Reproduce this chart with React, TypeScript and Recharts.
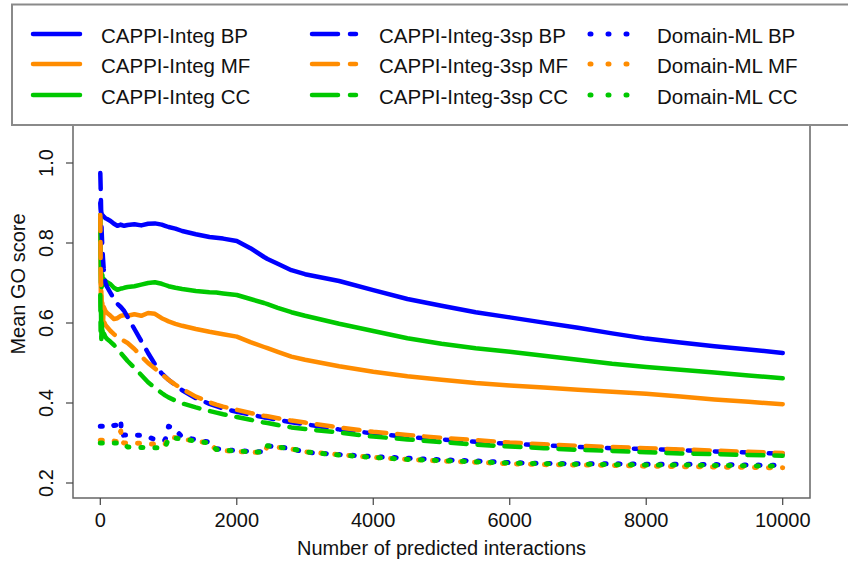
import React from 'react';
import { LineChart, Line, XAxis, YAxis, ReferenceArea, Legend } from 'recharts';

// x positions (number of predicted interactions)
const X = [0, 5, 10, 15, 20, 30, 40, 50, 75, 100, 150, 200, 250, 300, 310, 350, 400, 500, 600, 700, 800, 900, 950, 1000, 1100, 1200, 1400, 1600, 1700, 1800, 2000, 2200, 2400, 2450, 2600, 2800, 3000, 3500, 4000, 4500, 5000, 5500, 6000, 6500, 7000, 7500, 8000, 8500, 9000, 9500, 10000];

const integBP = [0.900, 0.885, 0.878, 0.875, 0.872, 0.870, 0.868, 0.866, 0.862, 0.860, 0.855, 0.848, 0.843, 0.846, 0.845, 0.843, 0.845, 0.847, 0.844, 0.848, 0.849, 0.846, 0.843, 0.840, 0.836, 0.830, 0.822, 0.815, 0.813, 0.811, 0.805, 0.787, 0.765, 0.760, 0.748, 0.732, 0.722, 0.705, 0.682, 0.660, 0.643, 0.627, 0.614, 0.601, 0.588, 0.574, 0.561, 0.551, 0.542, 0.534, 0.525];
const integMF = [0.870, 0.720, 0.640, 0.680, 0.610, 0.650, 0.600, 0.640, 0.630, 0.625, 0.618, 0.610, 0.612, 0.618, 0.618, 0.620, 0.618, 0.622, 0.618, 0.625, 0.623, 0.612, 0.608, 0.604, 0.598, 0.593, 0.585, 0.578, 0.575, 0.572, 0.566, 0.552, 0.540, 0.537, 0.528, 0.516, 0.508, 0.492, 0.478, 0.467, 0.458, 0.450, 0.444, 0.439, 0.433, 0.428, 0.423, 0.416, 0.409, 0.403, 0.397];
const integCC = [0.870, 0.780, 0.700, 0.740, 0.690, 0.720, 0.695, 0.710, 0.705, 0.702, 0.697, 0.688, 0.683, 0.686, 0.686, 0.688, 0.690, 0.692, 0.696, 0.700, 0.702, 0.698, 0.695, 0.692, 0.688, 0.685, 0.680, 0.677, 0.676, 0.674, 0.670, 0.660, 0.650, 0.647, 0.638, 0.627, 0.618, 0.598, 0.580, 0.562, 0.548, 0.537, 0.528, 0.518, 0.508, 0.498, 0.490, 0.483, 0.476, 0.469, 0.462];

const sp3BP = [0.975, 0.940, 0.900, 0.860, 0.830, 0.790, 0.760, 0.735, 0.700, 0.690, 0.675, 0.660, 0.648, 0.640, 0.638, 0.630, 0.615, 0.585, 0.555, 0.525, 0.497, 0.474, 0.466, 0.458, 0.445, 0.432, 0.412, 0.398, 0.392, 0.386, 0.378, 0.371, 0.364, 0.363, 0.358, 0.352, 0.347, 0.334, 0.324, 0.315, 0.309, 0.303, 0.298, 0.294, 0.290, 0.287, 0.285, 0.282, 0.279, 0.276, 0.273];
const sp3MF = [0.870, 0.760, 0.700, 0.670, 0.650, 0.630, 0.615, 0.605, 0.595, 0.590, 0.580, 0.572, 0.565, 0.560, 0.559, 0.555, 0.550, 0.535, 0.517, 0.500, 0.486, 0.472, 0.465, 0.458, 0.446, 0.435, 0.416, 0.402, 0.396, 0.391, 0.383, 0.375, 0.368, 0.367, 0.362, 0.356, 0.351, 0.339, 0.328, 0.320, 0.313, 0.307, 0.301, 0.297, 0.293, 0.290, 0.287, 0.284, 0.281, 0.278, 0.275];
const sp3CC = [0.670, 0.580, 0.630, 0.560, 0.610, 0.570, 0.590, 0.575, 0.565, 0.560, 0.553, 0.545, 0.535, 0.525, 0.523, 0.515, 0.505, 0.488, 0.470, 0.452, 0.438, 0.425, 0.419, 0.414, 0.406, 0.399, 0.389, 0.380, 0.376, 0.372, 0.365, 0.358, 0.351, 0.350, 0.345, 0.339, 0.335, 0.326, 0.316, 0.309, 0.302, 0.296, 0.291, 0.287, 0.283, 0.280, 0.277, 0.274, 0.272, 0.270, 0.268];

const mlBP = [0.342, 0.342, 0.342, 0.342, 0.342, 0.342, 0.342, 0.341, 0.341, 0.340, 0.340, 0.344, 0.345, 0.358, 0.318, 0.320, 0.320, 0.320, 0.319, 0.316, 0.308, 0.307, 0.307, 0.342, 0.333, 0.315, 0.308, 0.302, 0.286, 0.283, 0.281, 0.279, 0.278, 0.293, 0.290, 0.286, 0.277, 0.271, 0.266, 0.262, 0.258, 0.255, 0.251, 0.249, 0.248, 0.248, 0.247, 0.247, 0.246, 0.245, 0.244];
const mlMF = [0.307, 0.307, 0.307, 0.307, 0.307, 0.307, 0.307, 0.307, 0.307, 0.307, 0.307, 0.305, 0.303, 0.330, 0.302, 0.300, 0.300, 0.300, 0.299, 0.298, 0.297, 0.297, 0.297, 0.316, 0.313, 0.310, 0.305, 0.300, 0.283, 0.281, 0.279, 0.277, 0.276, 0.292, 0.289, 0.285, 0.278, 0.271, 0.264, 0.259, 0.255, 0.252, 0.248, 0.246, 0.245, 0.244, 0.242, 0.241, 0.240, 0.239, 0.238];
const mlCC = [0.300, 0.300, 0.300, 0.300, 0.300, 0.300, 0.300, 0.300, 0.300, 0.300, 0.300, 0.300, 0.300, 0.300, 0.300, 0.298, 0.290, 0.289, 0.289, 0.288, 0.288, 0.288, 0.288, 0.312, 0.312, 0.310, 0.305, 0.300, 0.284, 0.282, 0.280, 0.278, 0.277, 0.293, 0.290, 0.286, 0.278, 0.270, 0.264, 0.259, 0.256, 0.253, 0.250, 0.248, 0.247, 0.246, 0.245, 0.245, 0.244, 0.243, 0.242];

const X_TICKS = [0, 2000, 4000, 6000, 8000, 10000];
const Y_TICKS = [0.2, 0.4, 0.6, 0.8, 1.0];
const Y_TICK_LABELS = ['0.2', '0.4', '0.6', '0.8', '1.0'];

const BLUE = '#0000FF';
const ORANGE = '#FF8C00';
const GREEN = '#00C800';
const FONT = '"Liberation Sans", Arial, Helvetica, sans-serif';

type Style = 'solid' | 'dashed' | 'dotted';
const SERIES: { key: string; name: string; values: number[]; color: string; style: Style }[] = [
  { key: 'integBP', name: 'CAPPI-Integ BP', values: integBP, color: BLUE, style: 'solid' },
  { key: 'integMF', name: 'CAPPI-Integ MF', values: integMF, color: ORANGE, style: 'solid' },
  { key: 'integCC', name: 'CAPPI-Integ CC', values: integCC, color: GREEN, style: 'solid' },
  { key: 'sp3BP', name: 'CAPPI-Integ-3sp BP', values: sp3BP, color: BLUE, style: 'dashed' },
  { key: 'sp3MF', name: 'CAPPI-Integ-3sp MF', values: sp3MF, color: ORANGE, style: 'dashed' },
  { key: 'sp3CC', name: 'CAPPI-Integ-3sp CC', values: sp3CC, color: GREEN, style: 'dashed' },
  { key: 'mlBP', name: 'Domain-ML BP', values: mlBP, color: BLUE, style: 'dotted' },
  { key: 'mlMF', name: 'Domain-ML MF', values: mlMF, color: ORANGE, style: 'dotted' },
  { key: 'mlCC', name: 'Domain-ML CC', values: mlCC, color: GREEN, style: 'dotted' },
];

const rows = X.map((x, i) => {
  const r: Record<string, number> = { x };
  SERIES.forEach((s) => {
    r[s.key] = s.values[i];
  });
  return r;
});

const DASH: Record<Style, string | undefined> = {
  solid: undefined,
  dashed: '16 11',
  dotted: '2 12',
};

const W = 848;
const H = 564;
const M = { top: 125, right: 38, bottom: 0, left: 8 };
const Y_AXIS_W = 65;
const X_AXIS_H = 66;
const PLOT_LEFT = M.left + Y_AXIS_W;
const PLOT_RIGHT = W - M.right;
const PLOT_BOTTOM = H - X_AXIS_H;

const LEGEND_COLS = [
  { lineX1: 33, lineX2: 80, textX: 101, dash: undefined as string | undefined, width: 4.5 },
  { lineX1: 312, lineX2: 356, textX: 379, dash: '26 12', width: 4.5 },
  { lineX1: 590, lineX2: 627, textX: 657, dash: '1 17', width: 5 },
];
const LEGEND_ROWS = [34, 64, 95];

const renderLegend = () => (
  <svg width={W} height={130} style={{ display: 'block', overflow: 'visible' }}>
    <rect x={12} y={4.5} width={W} height={120.5} fill="#fff" stroke="#8a8a8a" strokeWidth={2} />
    {SERIES.map((s, i) => {
      const col = LEGEND_COLS[Math.floor(i / 3)];
      const cy = LEGEND_ROWS[i % 3];
      return (
        <g key={s.key}>
          <line
            x1={col.lineX1}
            x2={col.lineX2}
            y1={cy}
            y2={cy}
            stroke={s.color}
            strokeWidth={col.width}
            strokeLinecap="round"
            strokeDasharray={col.dash}
          />
          <text x={col.textX} y={cy + 8.5} fontSize={20.5} fontFamily={FONT} fill="#111">
            {s.name}
          </text>
        </g>
      );
    })}
  </svg>
);

const XTick = (props: any) => {
  const { x, y, payload } = props;
  return (
    <text x={x} y={y + 20} textAnchor="middle" fontSize={20} fontFamily={FONT} fill="#111">
      {String(payload.value)}
    </text>
  );
};

const YTick = (props: any) => {
  const { x, y, payload } = props;
  const idx = Y_TICKS.indexOf(payload.value);
  const bx = x - 11;
  return (
    <text
      x={bx}
      y={y}
      transform={`rotate(-90 ${bx} ${y})`}
      textAnchor="middle"
      fontSize={20}
      fontFamily={FONT}
      fill="#111"
    >
      {idx >= 0 ? Y_TICK_LABELS[idx] : String(payload.value)}
    </text>
  );
};

const Y_DOMAIN: [number, number] = [0.1625, 1.095];
const X_DOMAIN: [number, number] = [-400, 10400];

export default function App() {
  return (
    <div style={{ position: 'absolute', left: 0, top: 0, width: W, height: H, background: '#fff' }}>
      <LineChart width={W} height={H} data={rows} margin={M}>
        <XAxis
          dataKey="x"
          type="number"
          domain={X_DOMAIN}
          allowDataOverflow
          ticks={X_TICKS}
          interval={0}
          height={X_AXIS_H}
          axisLine={false}
          tickSize={7}
          tickMargin={2}
          tickLine={{ stroke: '#444', strokeWidth: 1.2 }}
          tick={<XTick />}
          label={{
            content: () => (
              <text
                x={(PLOT_LEFT + PLOT_RIGHT) / 2}
                y={PLOT_BOTTOM + 57}
                textAnchor="middle"
                fontSize={20}
                fontFamily={FONT}
                fill="#111"
              >
                Number of predicted interactions
              </text>
            ),
          }}
        />
        <YAxis
          type="number"
          domain={Y_DOMAIN}
          allowDataOverflow
          ticks={Y_TICKS}
          interval={0}
          width={Y_AXIS_W}
          axisLine={false}
          tickSize={7}
          tickMargin={2}
          tickLine={{ stroke: '#444', strokeWidth: 1.2 }}
          tick={<YTick />}
          label={{
            content: () => (
              <text
                x={25}
                y={284}
                transform="rotate(-90 25 284)"
                textAnchor="middle"
                fontSize={20}
                fontFamily={FONT}
                fill="#111"
              >
                Mean GO score
              </text>
            ),
          }}
        />
        <ReferenceArea
          x1={X_DOMAIN[0]}
          x2={X_DOMAIN[1]}
          y1={Y_DOMAIN[0]}
          y2={Y_DOMAIN[1]}
          fill="none"
          stroke="#666"
          strokeWidth={1.5}
          ifOverflow="visible"
        />
        {SERIES.map((s) => (
          <Line
            key={s.key}
            dataKey={s.key}
            name={s.name}
            type="linear"
            stroke={s.color}
            strokeWidth={s.style === 'dotted' ? 5 : 4.5}
            strokeDasharray={DASH[s.style]}
            strokeLinecap="round"
            strokeLinejoin="round"
            dot={false}
            activeDot={false}
            isAnimationActive={false}
          />
        ))}
        <Legend
          layout="horizontal"
          verticalAlign="middle"
          align="center"
          content={renderLegend}
          wrapperStyle={{ position: 'absolute', top: 0, left: 0, width: W, height: 130 }}
        />
      </LineChart>
    </div>
  );
}
